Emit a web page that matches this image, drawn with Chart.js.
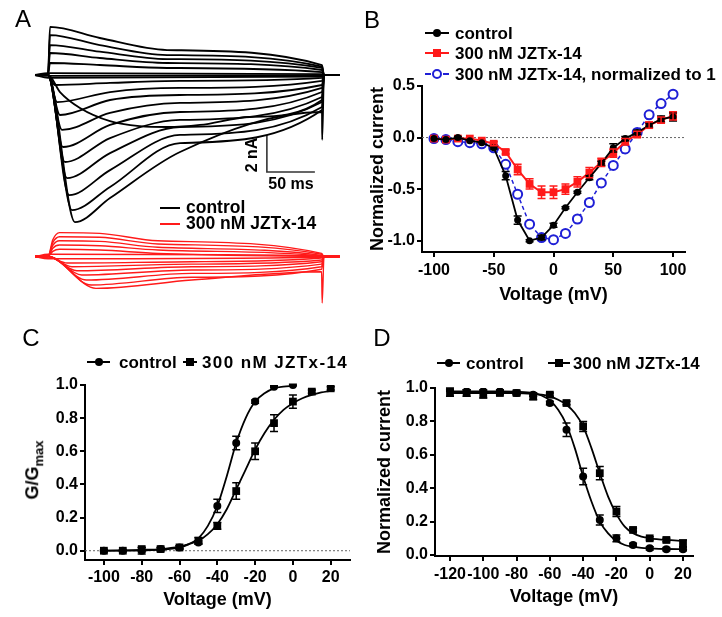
<!DOCTYPE html>
<html>
<head>
<meta charset="utf-8">
<script src="https://cdn.jsdelivr.net/npm/chart.js@4.4.0/dist/chart.umd.min.js"></script>
<style>
  body { margin: 0; background: #fff; width: 722px; height: 617px; position: relative; overflow: hidden;
         font-family: "Liberation Sans", Arial, sans-serif; }
  canvas { position: absolute; }
  .t { position: absolute; line-height: 1; white-space: nowrap; font-weight: bold; color: #000; }
</style>
</head>
<body>
<canvas id="panelA" width="360" height="310" style="left:0;top:0"></canvas>
<canvas id="panelB" width="362" height="310" style="left:360px;top:0"></canvas>
<canvas id="panelC" width="360" height="307" style="left:0;top:310px"></canvas>
<canvas id="panelD" width="362" height="307" style="left:360px;top:310px"></canvas>
<script>
// ---- A: current traces, [ms, nA] ----
const ctrlOut = [
  [[0, 0], [2.1, 2.6], [54, 2.0], [124, 1.35], [285.4, 0.54]],
  [[0, 0], [2.1, 2.16], [54, 1.62], [124, 1.08], [285.4, 0.45]],
  [[0, 0], [2.1, 1.62], [54, 1.26], [124, 0.86], [285.4, 0.38]],
  [[0, 0], [2.1, 1.19], [54, 0.92], [124, 0.65], [285.4, 0.27]],
  [[0, 0], [2.1, 0.65], [54, 0.54], [124, 0.38], [285.4, 0.16]]
];
const ctrlFlat = [
  [[0, 0.1], [285.4, 0.05]],
  [[0, -0.05], [285.4, -0.02]],
  [[0, -0.15], [285.4, -0.08]]
];
const ctrlIn = [
  [[0, 0], [7.3, -0.54], [64.6, -0.43], [137.5, -0.32], [285.4, -0.16]],
  [[0, 0], [9.4, -1.46], [64.6, -0.92], [137.5, -0.70], [285.4, -0.32]],
  [[0, 0], [12.5, -2.16], [64.6, -1.35], [137.5, -1.08], [285.4, -0.54]],
  [[0, 0], [14.6, -2.97], [64.6, -2.05], [137.5, -1.51], [285.4, -0.70]],
  [[0, 0], [15.6, -3.89], [64.6, -2.70], [137.5, -2.0], [285.4, -0.92]],
  [[0, 0], [17.7, -4.70], [64.6, -3.41], [137.5, -2.43], [285.4, -1.19]],
  [[0, 0], [19.8, -5.57], [64.6, -4.22], [137.5, -2.81], [285.4, -1.46]],
  [[0, 0], [21.9, -6.49], [64.6, -5.14], [137.5, -3.24], [285.4, -1.73]],
  [[0, 0], [25, -7.30], [64.6, -6.05], [137.5, -3.68], [285.4, -1.89]],
  [[0, 0], [28.1, -7.95], [64.6, -6.65], [137.5, -4.16], [285.4, -2.0], [285.6, -3.5]]
];
const ctrlSlow = [[0, 0], [12.5, -0.92], [33.3, -1.78], [64.6, -2.49], [95.8, -2.76], [124, -2.81],
  [158.3, -2.70], [210.4, -2.27], [285.4, -1.35]];
const jztOut = [
  [[0, 0], [5, 0.9], [12, 1.29], [54, 1.25], [114.6, 0.85], [285, 0.17]],
  [[0, 0], [5, 0.75], [12, 1.07], [54, 1.04], [114.6, 0.68], [285, 0.12]],
  [[0, 0], [5, 0.6], [12, 0.85], [54, 0.82], [114.6, 0.50], [285, 0.06]],
  [[0, 0], [5, 0.45], [12, 0.62], [54, 0.58], [114.6, 0.35], [285, 0.03]],
  [[0, 0], [5, 0.28], [12, 0.39], [54, 0.35], [114.6, 0.17], [285, 0.0]]
];
const jztFlat = [
  [[0, 0.12], [285, 0.04]],
  [[0, -0.12], [285, -0.04]]
];
const jztIn = [
  [[0, 0], [20, -0.35], [149.7, -0.28], [285, -0.08]],
  [[0, 0], [25, -0.55], [149.7, -0.41], [285, -0.19]],
  [[0, 0], [30, -0.77], [149.7, -0.55], [285, -0.28]],
  [[0, 0], [35, -1.0], [149.7, -0.73], [285, -0.41]],
  [[0, 0], [40, -1.27], [149.7, -0.91], [285, -0.55]],
  [[0, 0], [45, -1.54], [149.7, -1.12], [285, -0.69]],
  [[0, 0], [50, -1.72], [149.7, -1.27], [285, -0.82], [285.6, -2.51]]
];

// ---- B: I-V ----
const vB = [-100, -90, -80, -70, -60, -50, -40, -30, -20, -10, 0, 10, 20, 30, 40, 50, 60, 70, 80, 90, 100];
const bCtrl = [-0.01, -0.02, 0.0, -0.03, -0.05, -0.1, -0.37, -0.8, -1.0, -0.97, -0.85, -0.68, -0.53, -0.39, -0.25, -0.1, -0.01, 0.05, 0.12, 0.18, 0.2];
const bCtrlErr = [0, 0, 0.01, 0, 0, 0.01, 0.04, 0.04, 0.01, 0.02, 0.02, 0.01, 0.01, 0.02, 0.02, 0.04, 0.02, 0.02, 0.02, 0.03, 0.04];
const bJzt = [-0.01, -0.02, -0.01, -0.01, -0.03, -0.06, -0.14, -0.31, -0.45, -0.53, -0.53, -0.5, -0.43, -0.34, -0.24, -0.15, -0.04, 0.03, 0.12, 0.17, 0.21];
const bJztErr = [0, 0, 0, 0, 0, 0.02, 0.02, 0.05, 0.05, 0.06, 0.06, 0.05, 0.05, 0.05, 0.04, 0.04, 0.03, 0.03, 0.03, 0.03, 0.04];
const bNorm = [-0.01, -0.02, -0.04, -0.05, -0.06, -0.1, -0.26, -0.55, -0.84, -0.97, -0.99, -0.93, -0.79, -0.63, -0.44, -0.27, -0.11, 0.05, 0.22, 0.33, 0.42];
const bXTicks = [-100, -50, 0, 50, 100];
const bYTicks = [-1.0, -0.5, 0.0, 0.5];

// ---- C: activation G/Gmax ----
const vCctrl = [-100, -90, -80, -70, -60, -50, -40, -30, -20, -10, 0];
const cCtrl = [0.0, 0.0, 0.0, 0.01, 0.02, 0.05, 0.27, 0.65, 0.9, 0.99, 1.0];
const cCtrlErr = [0.005, 0.005, 0.02, 0.01, 0.01, 0.01, 0.04, 0.04, 0.01, 0.005, 0.005];
const vCjzt = [-100, -90, -80, -70, -60, -50, -40, -30, -20, -10, 0, 10, 20];
const cJzt = [0.0, 0.0, 0.01, 0.01, 0.02, 0.06, 0.15, 0.36, 0.6, 0.77, 0.9, 0.96, 0.98];
const cJztErr = [0.005, 0.005, 0.01, 0.01, 0.01, 0.02, 0.02, 0.05, 0.05, 0.05, 0.04, 0.01, 0.01];
const vCfitCtrl = [-100, -90, -80, -70, -60, -55, -50, -45, -40, -35, -30, -25, -20, -15, -10, -5, 0];
const cFitCtrl = [0, 0, 0.002, 0.006, 0.02, 0.04, 0.075, 0.15, 0.27, 0.45, 0.65, 0.8, 0.9, 0.95, 0.98, 0.99, 0.995];
const vCfitJzt = [-100, -90, -80, -70, -60, -55, -50, -45, -40, -35, -30, -25, -20, -15, -10, -5, 0, 5, 10, 15, 20];
const cFitJzt = [0, 0.002, 0.005, 0.01, 0.025, 0.04, 0.06, 0.1, 0.16, 0.25, 0.37, 0.49, 0.61, 0.71, 0.79, 0.85, 0.89, 0.92, 0.94, 0.955, 0.965];
const cXTicks = [-100, -80, -60, -40, -20, 0, 20];
const cYTicks = [0.0, 0.2, 0.4, 0.6, 0.8, 1.0];

// ---- D: inactivation ----
const vD = [-120, -110, -100, -90, -80, -70, -60, -50, -40, -30, -20, -10, 0, 10, 20];
const dCtrl = [0.99, 0.98, 0.98, 0.98, 0.97, 0.96, 0.91, 0.75, 0.47, 0.21, 0.1, 0.06, 0.04, 0.035, 0.035];
const dCtrlErr = [0.01, 0.01, 0.01, 0.01, 0.01, 0.01, 0.01, 0.04, 0.05, 0.03, 0.02, 0.01, 0.01, 0.01, 0.01];
const dJzt = [0.97, 0.97, 0.96, 0.97, 0.97, 0.95, 0.96, 0.91, 0.77, 0.49, 0.26, 0.15, 0.1, 0.09, 0.07];
const dJztErr = [0.02, 0.02, 0.02, 0.01, 0.01, 0.02, 0.01, 0.01, 0.03, 0.04, 0.03, 0.01, 0.01, 0.01, 0.02];
const vDfit = [-120, -110, -100, -90, -80, -70, -65, -60, -55, -50, -45, -40, -35, -30, -25, -20, -15, -10, -5, 0, 10, 20];
const dFitCtrl = [0.98, 0.98, 0.98, 0.98, 0.978, 0.97, 0.955, 0.925, 0.87, 0.78, 0.64, 0.47, 0.32, 0.2, 0.13, 0.085, 0.06, 0.05, 0.043, 0.04, 0.036, 0.035];
const dFitJzt = [0.97, 0.97, 0.97, 0.97, 0.97, 0.965, 0.96, 0.95, 0.93, 0.9, 0.85, 0.77, 0.64, 0.49, 0.35, 0.245, 0.17, 0.13, 0.11, 0.1, 0.09, 0.085];
const dXTicks = [-120, -100, -80, -60, -40, -20, 0, 20];
const dYTicks = [0.0, 0.2, 0.4, 0.6, 0.8, 1.0];

const RED = '#ff1a1a';
const BLUE = '#1f1fd6';

Chart.defaults.font.family = '"Liberation Sans", Arial, sans-serif';
Chart.defaults.color = '#000';

const xy = (xs, ys) => xs.map((x, i) => ({ x, y: ys[i] }));
// holding potential before and after the test pulse
const hold = pts => [[-13.5, 0], ...pts, [287.5, 0], [304, 0]].map(([x, y]) => ({ x, y }));

// vertical SEM bars, drawn with the chart's own scales
const errorBars = {
  id: 'errorBars',
  afterDatasetsDraw(chart) {
    const ctx = chart.ctx;
    chart.data.datasets.forEach((ds, i) => {
      if (!ds.errors) return;
      const meta = chart.getDatasetMeta(i);
      const ys = chart.scales[meta.yAxisID];
      ctx.save();
      ctx.strokeStyle = ds.pointBackgroundColor;
      ctx.lineWidth = 1.5;
      meta.data.forEach((pt, j) => {
        const e = ds.errors[j];
        if (!e) return;
        const v = ds.data[j].y;
        const y1 = ys.getPixelForValue(v + e), y2 = ys.getPixelForValue(v - e);
        ctx.beginPath();
        ctx.moveTo(pt.x, y1); ctx.lineTo(pt.x, y2);
        ctx.moveTo(pt.x - 4, y1); ctx.lineTo(pt.x + 4, y1);
        ctx.moveTo(pt.x - 4, y2); ctx.lineTo(pt.x + 4, y2);
        ctx.stroke();
      });
      ctx.restore();
    });
  }
};

// ---- panel A ----
const traces = [];
const addTraces = (list, color, w, axis) => list.forEach(p => traces.push({
  data: hold(p), borderColor: color, borderWidth: w, pointRadius: 0, showLine: true,
  cubicInterpolationMode: 'monotone', yAxisID: axis
}));
addTraces(ctrlFlat, '#000', 1.8, 'y');
addTraces(ctrlOut, '#000', 1.8, 'y');
addTraces(ctrlIn, '#000', 1.8, 'y');
addTraces([ctrlSlow], '#000', 1.8, 'y');
addTraces(jztFlat, RED, 1.5, 'y2');
addTraces(jztOut, RED, 1.4, 'y2');
addTraces(jztIn, RED, 1.4, 'y2');
// 50 ms / 2 nA scale bar
traces.push({
  data: [{ x: 228, y: -3.24 }, { x: 228, y: -5.24 }, { x: 278, y: -5.24 }],
  borderColor: '#333', borderWidth: 1.6, pointRadius: 0, showLine: true, yAxisID: 'y'
});

new Chart(document.getElementById('panelA'), {
  type: 'scatter',
  data: { datasets: traces },
  options: {
    responsive: false, animation: false,
    layout: { padding: 0 },
    plugins: { legend: { display: false }, tooltip: { enabled: false } },
    scales: {
      x: { type: 'linear', display: false, min: -50, max: 325 },
      y: { type: 'linear', display: false, min: -12.70, max: 4.054 },
      y2: { type: 'linear', display: false, min: -2.89, max: 13.865 }
    }
  }
});

// ---- panels B-D ----
function panel(id, o) {
  return new Chart(document.getElementById(id), {
    type: 'scatter',
    data: { datasets: o.datasets },
    options: {
      responsive: false, animation: false,
      layout: { padding: o.pad },
      plugins: { legend: { display: false }, tooltip: { enabled: false } },
      scales: {
        x: {
          type: 'linear', min: o.xRange[0], max: o.xRange[1],
          afterBuildTicks: s => { s.ticks = o.xTicks.map(v => ({ value: v })); },
          afterFit: s => { s.height = o.xH; },
          ticks: { font: { size: o.tick, weight: 'bold' }, padding: o.xPad, autoSkip: false, maxRotation: 0,
                   callback: v => String(v) },
          grid: { drawOnChartArea: false, tickLength: 5, color: '#000', lineWidth: 2 },
          border: { color: '#000', width: 2 },
          title: { display: true, text: 'Voltage (mV)', font: { size: 18, weight: 'bold' }, padding: 0 }
        },
        y: {
          type: 'linear', min: o.yRange[0], max: o.yRange[1],
          afterBuildTicks: s => { s.ticks = o.yTicks.map(v => ({ value: v })); },
          afterFit: s => { s.width = o.yW; },
          ticks: { font: { size: o.tick, weight: 'bold' }, padding: 2, callback: v => v.toFixed(1) },
          grid: { drawOnChartArea: false, tickLength: 5, color: '#000', lineWidth: 2 },
          border: { color: '#000', width: 2 },
          title: { display: !!o.yTitle, text: o.yTitle, font: { size: 18, weight: 'bold' }, padding: 0 }
        }
      }
    },
    plugins: [errorBars]
  });
}

const zeroLine = (x0, x1) => ({
  data: [{ x: x0, y: 0 }, { x: x1, y: 0 }], showLine: true, pointRadius: 0,
  borderColor: '#666', borderWidth: 1, borderDash: [2, 2]
});
const marks = (xs, ys, errs, shape, color) => ({
  data: xy(xs, ys), errors: errs, showLine: false,
  pointStyle: shape, pointRadius: shape === 'rect' ? 5.5 : 4,
  pointBackgroundColor: color, pointBorderWidth: 0, borderColor: color
});
const fit = (xs, ys) => ({
  data: xy(xs, ys), showLine: true, pointRadius: 0, borderColor: '#000', borderWidth: 1.8,
  cubicInterpolationMode: 'monotone'
});

panel('panelB', {
  pad: { left: 7, right: 37, top: 86, bottom: 4 }, yW: 55, xH: 54, tick: 16, xPad: 4,
  xRange: [-110, 110], yRange: [-1.11, 0.5], xTicks: bXTicks, yTicks: bYTicks,
  yTitle: 'Normalized current',
  datasets: [
    { data: xy(vB, bCtrl), errors: bCtrlErr, showLine: true, borderColor: '#000', borderWidth: 1.8,
      pointRadius: 3.5, pointBackgroundColor: '#000', pointBorderWidth: 0 },
    { data: xy(vB, bJzt), errors: bJztErr, showLine: true, borderColor: RED, borderWidth: 2,
      pointStyle: 'rect', pointRadius: 5.5, pointBackgroundColor: RED, pointBorderWidth: 0 },
    { data: xy(vB, bNorm), showLine: true, borderColor: BLUE, borderWidth: 1.5, borderDash: [4, 3],
      pointRadius: 4.5, pointBackgroundColor: '#fff', pointBorderColor: BLUE, pointBorderWidth: 2 },
    zeroLine(-110, 110)
  ]
});

panel('panelC', {
  pad: { left: 0, right: 10, top: 75, bottom: 6 }, yW: 85, xH: 51, tick: 16, xPad: 3,
  xRange: [-110, 30.2], yRange: [-0.056, 1.0], xTicks: cXTicks, yTicks: cYTicks,
  datasets: [
    marks(vCctrl, cCtrl, cCtrlErr, 'circle', '#000'),
    marks(vCjzt, cJzt, cJztErr, 'rect', '#000'),
    fit(vCfitCtrl, cFitCtrl),
    fit(vCfitJzt, cFitJzt),
    zeroLine(-110, 30.2)
  ]
});

panel('panelD', {
  pad: { left: 14, right: 29, top: 78, bottom: 9 }, yW: 61, xH: 52, tick: 16, xPad: 4,
  xRange: [-129, 26], yRange: [-0.006, 1.0], xTicks: dXTicks, yTicks: dYTicks,
  yTitle: 'Normalized current',
  datasets: [
    marks(vD, dCtrl, dCtrlErr, 'circle', '#000'),
    marks(vD, dJzt, dJztErr, 'rect', '#000'),
    fit(vDfit, dFitCtrl),
    fit(vDfit, dFitJzt)
  ]
});

// ---- text and keys ----
function text(html, x, y, size, opt = {}) {
  const d = document.createElement('div');
  d.className = 't';
  d.innerHTML = html;
  d.style.left = x + 'px';
  d.style.top = y + 'px';
  d.style.fontSize = size + 'px';
  if (opt.normal) d.style.fontWeight = 'normal';
  if (opt.spacing) d.style.letterSpacing = opt.spacing + 'px';
  d.style.transform = (opt.center ? 'translate(-50%,-50%)' : 'translateY(-50%)') + (opt.rot ? ' rotate(-90deg)' : '');
  document.body.appendChild(d);
}
function key(x1, x2, y, color, shape, dashed) {
  const l = document.createElement('div');
  l.style.cssText = `position:absolute;left:${x1}px;top:${y - 1}px;width:${x2 - x1}px;height:0;` +
    `border-top:2px ${dashed ? 'dashed' : 'solid'} ${color}`;
  document.body.appendChild(l);
  if (!shape) return;
  const s = shape === 'open' ? 10 : 8;
  const m = document.createElement('div');
  m.style.cssText = `position:absolute;left:${(x1 + x2) / 2 - s / 2}px;top:${y - s / 2}px;width:${s}px;height:${s}px;` +
    `box-sizing:border-box;border-radius:${shape === 'rect' ? 0 : 50}%;` +
    (shape === 'open' ? `background:#fff;border:2px solid ${color}` : `background:${color}`);
  document.body.appendChild(m);
}

text('A', 23, 19, 24, { center: true, normal: true });
text('B', 372, 20, 24, { center: true, normal: true });
text('C', 31, 338, 24, { center: true, normal: true });
text('D', 382, 338, 24, { center: true, normal: true });

key(160, 180, 208, '#000');
text('control', 186, 208, 17.5);
key(160, 180, 224, RED);
text('300 nM JZTx-14', 186, 224, 17.5);
text('2 nA', 252, 155, 16, { center: true, rot: true });
text('50 ms', 291, 184, 16, { center: true });

key(425, 449, 33, '#000', 'circle');
text('control', 455, 33, 17);
key(425, 449, 53, RED, 'rect');
text('300 nM JZTx-14', 455, 53, 17);
key(425, 449, 74, BLUE, 'open', true);
text('300 nM JZTx-14, normalized to 1', 455, 74, 17);

key(87, 110, 362, '#000', 'circle');
text('control', 119, 362, 17);
key(183, 197, 362, '#000', 'rect');
text('300 nM JZTx-14', 202, 362, 17, { spacing: 1.4 });
text('G/G<sub style="font-size:13px">max</sub>', 34, 470, 18, { center: true, rot: true });

key(437, 460, 363, '#000', 'circle');
text('control', 466, 363, 17);
key(548, 570, 363, '#000', 'rect');
text('300 nM JZTx-14', 573, 363, 17);
</script>
</body>
</html>
